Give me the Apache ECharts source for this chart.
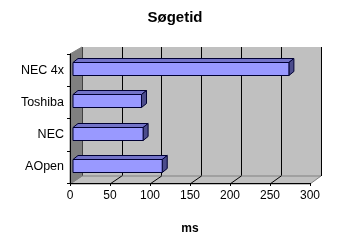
<!DOCTYPE html>
<html><head><meta charset="utf-8">
<script src="https://cdn.jsdelivr.net/npm/echarts@6/dist/echarts.min.js"></script>
<style>html,body{margin:0;padding:0;background:#fff}#c{width:350px;height:240px}</style>
</head><body><div id="c"></div>
<script>
const titleText = 'Søgetid';
const axisName = 'ms';
const categories = ['AOpen', 'NEC', 'Toshiba', 'NEC 4x'];
const values = [112, 88, 86, 271];
const xTicks = [0, 50, 100, 150, 200, 250, 300];

const FONT = 'Liberation Sans';
const chart = echarts.init(document.getElementById('c'), null, {renderer: 'canvas'});

const barData = values.map((v, i) => [v, i]);

function renderBar(params, api) {
  const v = api.value(0), c = api.value(1);
  const p0 = api.coord([0, c]);
  const p1 = api.coord([v, c]);
  const h = api.size([0, 1])[1] * 0.4;
  const x0 = p0[0], x1 = p1[0];
  const yT = Math.round(p0[1] - h / 2) + 0.5, yB = yT + Math.round(h);
  const dx = 5, dy = 4;
  const stroke = '#000033';
  return {
    type: 'group',
    children: [
      {type: 'polygon', shape: {points: [[x0, yT], [x0 + dx, yT - dy], [x1 + dx, yT - dy], [x1, yT]]},
        style: {fill: '#7373c8', stroke: stroke, lineWidth: 1}},
      {type: 'polygon', shape: {points: [[x1, yT], [x1 + dx, yT - dy], [x1 + dx, yB - dy], [x1, yB]]},
        style: {fill: '#4c4c8c', stroke: stroke, lineWidth: 1}},
      {type: 'rect', shape: {x: x0, y: yT, width: x1 - x0, height: yB - yT},
        style: {fill: '#9999ff', stroke: stroke, lineWidth: 1}}
    ]
  };
}

chart.setOption({
  animation: false,
  backgroundColor: '#ffffff',
  title: {text: titleText, left: 'center', top: 5,
    textStyle: {fontFamily: FONT, fontSize: 15, fontWeight: 'bold', color: '#000'}},
  grid: [
    {left: 82, top: 47, width: 239, height: 129, show: true, backgroundColor: '#c0c0c0', borderWidth: 0},
    {left: 70, top: 54, width: 240, height: 130, show: false},
    {left: 73, top: 52, width: 239, height: 130, show: false}
  ],
  xAxis: [
    {gridIndex: 0, type: 'value', min: 0, max: 300, interval: 50,
      axisLine: {show: false}, axisTick: {show: false}, axisLabel: {show: false},
      splitLine: {show: true, lineStyle: {color: '#000', width: 1}}},
    {gridIndex: 1, type: 'value', min: 0, max: 300, interval: 50, z: 4,
      axisLine: {show: true, lineStyle: {color: '#000', width: 1}},
      axisTick: {show: true, length: 3, lineStyle: {color: '#000'}},
      axisLabel: {fontFamily: FONT, fontSize: 12, color: '#000', margin: 7},
      splitLine: {show: false},
      name: axisName, nameLocation: 'middle', nameGap: 40,
      nameTextStyle: {fontFamily: FONT, fontSize: 12, fontWeight: 'bold', color: '#000'}},
    {gridIndex: 2, type: 'value', min: 0, max: 300, show: false}
  ],
  yAxis: [
    {gridIndex: 0, type: 'category', data: categories, show: false},
    {gridIndex: 1, type: 'category', data: categories, z: 4,
      axisLine: {show: true, lineStyle: {color: '#000', width: 1}},
      axisTick: {show: true, length: 3, lineStyle: {color: '#000'}},
      axisLabel: {fontFamily: FONT, fontSize: 12.5, color: '#000', margin: 6},
      splitLine: {show: false}},
    {gridIndex: 2, type: 'category', data: categories, show: false}
  ],
  series: [{
    type: 'custom', xAxisIndex: 2, yAxisIndex: 2, z: 6,
    renderItem: renderBar, data: barData, encode: {x: 0, y: 1}
  }]
});

// walls and floor, positioned from the axes' own scales
const fx0 = chart.convertToPixel({xAxisIndex: 1}, 0);
const fx1 = chart.convertToPixel({xAxisIndex: 1}, 300);
const bx0 = chart.convertToPixel({xAxisIndex: 0}, 0);
const bx1 = chart.convertToPixel({xAxisIndex: 0}, 300);
const fyB = 184, byB = 176, fyT = 54, byT = 47;
const gfx = [
  {type: 'polygon', z: 1, shape: {points: [[fx0, fyB], [fx1, fyB], [bx1, byB], [bx0, byB]]},
    style: {fill: '#c0c0c0', stroke: '#808080', lineWidth: 1}},
  {type: 'polygon', z: 2, shape: {points: [[fx0, fyT], [bx0, byT], [bx0, byB], [fx0, fyB]]},
    style: {fill: '#808080', stroke: '#808080', lineWidth: 1}}
];
xTicks.slice(1, -1).forEach(v => {
  const a = chart.convertToPixel({xAxisIndex: 1}, v);
  const b = chart.convertToPixel({xAxisIndex: 0}, v);
  gfx.push({type: 'line', z: 2, shape: {x1: a, y1: fyB, x2: b, y2: byB},
    style: {stroke: '#000', lineWidth: 1}});
});
chart.setOption({graphic: gfx});
</script></body></html>
